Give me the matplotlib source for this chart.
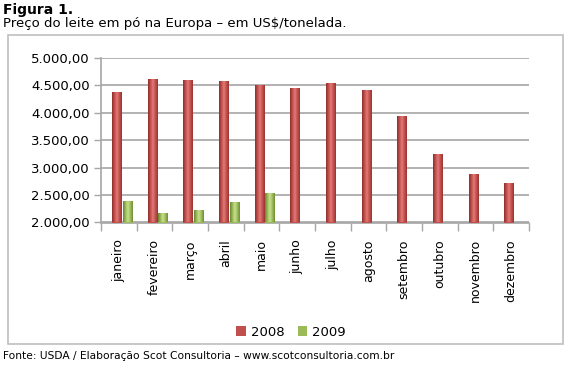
import matplotlib
matplotlib.use("Agg")
import matplotlib.pyplot as plt
import numpy as np
from matplotlib.patches import Patch, Rectangle
from matplotlib.colors import LinearSegmentedColormap

months = ["janeiro", "fevereiro", "março", "abril", "maio", "junho", "julho",
          "agosto", "setembro", "outubro", "novembro", "dezembro"]
v2008 = [4380, 4622, 4599, 4580, 4500, 4449, 4536, 4409, 3934, 3248, 2889, 2712]
v2009 = [2401, 2172, 2226, 2372, 2542]
yticks = [2000, 2500, 3000, 3500, 4000, 4500, 5000]
ytick_labels = ["2.000,00", "2.500,00", "3.000,00", "3.500,00", "4.000,00", "4.500,00", "5.000,00"]

plt.rcParams['font.family'] = ['DejaVu Sans']

fig = plt.figure(figsize=(5.7, 3.65), dpi=100)
fig.patch.set_facecolor("white")

# chart frame
fig.patches.append(Rectangle((8/570, 1-344/365), 555/570, 309/365, transform=fig.transFigure,
                             facecolor="none", edgecolor="#BFBFBF", lw=1.2))

ax = fig.add_axes([101/570, 1-222.5/365, 428/570, 164.5/365])
ax.set_facecolor("none")

x = np.arange(len(months))
w = 0.28
red_cmap = LinearSegmentedColormap.from_list("r", ["#8E2F2C", "#C0504D", "#E37B77", "#C0504D", "#9A3532"])
grn_cmap = LinearSegmentedColormap.from_list("g", ["#6A8532", "#9BBB59", "#C9E08E", "#9BBB59", "#718D38"])
grad = np.linspace(0, 1, 64).reshape(1, -1)

b1 = ax.bar(x - 0.05, np.array(v2008) - 2000, width=w, bottom=2000, color="#C0504D", zorder=3)
b2 = ax.bar(x[:len(v2009)] + 0.25, np.array(v2009) - 2000, width=w, bottom=2000, color="#9BBB59", zorder=3)
for bars, cm in ((b1, red_cmap), (b2, grn_cmap)):
    for p in bars:
        x0, y0 = p.get_x(), p.get_y()
        im = ax.imshow(grad, cmap=cm, aspect="auto", zorder=4,
                       extent=(x0, x0 + p.get_width(), y0, y0 + p.get_height()))
        im.set_clip_path(p)

ax.set_xlim(-0.5, len(months) - 0.5)
ax.set_ylim(2000, 5000)
ax.set_yticks(yticks)
ax.set_yticklabels(ytick_labels, fontsize=9.5, color="#000000")
ax.yaxis.grid(True, color="#A6A6A6", lw=1.2, zorder=0)
ax.set_axisbelow(True)

ax.set_xticks(np.arange(len(months) + 1) - 0.5)
ax.set_xticklabels([])
ax.set_xticks(x, minor=True)
ax.set_xticklabels(months, minor=True, rotation=90, fontsize=9, va="top", ha="center")
ax.tick_params(axis="x", which="major", length=6, color="#A6A6A6", width=1)
ax.tick_params(axis="x", which="minor", length=0, pad=12)
ax.tick_params(axis="y", length=5, color="#A6A6A6", width=1, pad=3)

for s in ("top", "right"):
    ax.spines[s].set_visible(False)
for s in ("left", "bottom"):
    ax.spines[s].set_color("#A6A6A6")
    ax.spines[s].set_linewidth(1.2)

handles = [Patch(facecolor="#C0504D", label="2008"), Patch(facecolor="#9BBB59", label="2009")]
fig.legend(handles=handles, loc="center", bbox_to_anchor=(291/570, 1-332/365), ncol=2,
           frameon=False, fontsize=9.5, handlelength=0.7, handleheight=0.7,
           handletextpad=0.4, columnspacing=1.0)

fig.text(3/570, 1-3/365, "Figura 1.", fontsize=10, fontweight="bold", va="top", ha="left")
fig.text(3/570, 1-17/365, "Preço do leite em pó na Europa – em US$/tonelada.", fontsize=9.5,
         va="top", ha="left")
fig.text(3/570, 1-351/365, "Fonte: USDA / Elaboração Scot Consultoria – www.scotconsultoria.com.br",
         fontsize=7.7, va="top", ha="left")

fig.savefig("out.png", dpi=100)
